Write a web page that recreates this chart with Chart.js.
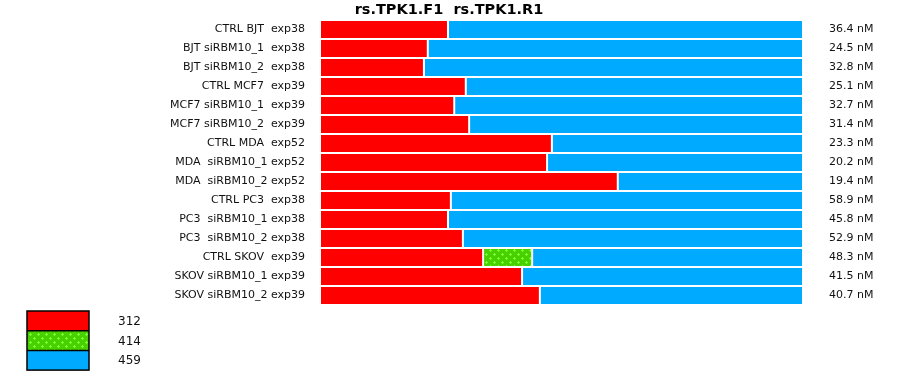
<!DOCTYPE html>
<html>
<head>
<meta charset="utf-8">
<script src="https://cdn.jsdelivr.net/npm/chart.js@4/dist/chart.umd.min.js"></script>
<style>
  html, body { margin: 0; padding: 0; background: #fff; }
  #wrap { width: 900px; height: 375px; position: relative; }
</style>
</head>
<body>
<div id="wrap"><canvas id="chart"></canvas></div>
<script>
const samples = [
  'CTRL BJT  exp38',
  'BJT siRBM10_1  exp38',
  'BJT siRBM10_2  exp38',
  'CTRL MCF7  exp39',
  'MCF7 siRBM10_1  exp39',
  'MCF7 siRBM10_2  exp39',
  'CTRL MDA  exp52',
  'MDA  siRBM10_1 exp52',
  'MDA  siRBM10_2 exp52',
  'CTRL PC3  exp38',
  'PC3  siRBM10_1 exp38',
  'PC3  siRBM10_2 exp38',
  'CTRL SKOV  exp39',
  'SKOV siRBM10_1 exp39',
  'SKOV siRBM10_2 exp39'
];

const concentrations = [
  '36.4 nM', '24.5 nM', '32.8 nM', '25.1 nM', '32.7 nM',
  '31.4 nM', '23.3 nM', '20.2 nM', '19.4 nM', '58.9 nM',
  '45.8 nM', '52.9 nM', '48.3 nM', '41.5 nM', '40.7 nM'
];

// fragment sizes (legend)
const fragments = ['312', '414', '459'];

// share of each fragment per sample, in %
const frag312 = [26.4, 22.2, 21.4, 30.1, 27.7, 30.8, 48.0, 47.0, 61.7, 27.0, 26.4, 29.5, 33.7, 41.8, 45.5];
const frag414 = [0, 0, 0, 0, 0, 0, 0, 0, 0, 0, 0, 0, 10.2, 0, 0];
const frag459 = [73.6, 77.8, 78.6, 69.9, 72.3, 69.2, 52.0, 53.0, 38.3, 73.0, 73.6, 70.5, 56.1, 58.2, 54.5];

const chartTitle = 'rs.TPK1.F1  rs.TPK1.R1';
const FONT = '"DejaVu Sans", Verdana, sans-serif';

// gruenes Muster mit hellen Kreuzen
function makeGreenPattern() {
  const c = document.createElement('canvas');
  c.width = 8; c.height = 8;
  const g = c.getContext('2d');
  g.fillStyle = '#48d000';
  g.fillRect(0, 0, 8, 8);
  g.fillStyle = '#77ff33';
  [[2, 2], [6, 6]].forEach(([x, y]) => {
    g.fillRect(x - 1, y, 3, 1);
    g.fillRect(x, y - 1, 1, 3);
  });
  return g.createPattern(c, 'repeat');
}

const canvas = document.getElementById('chart');
const greenFill = makeGreenPattern();
const RED = '#ff0000';
const BLUE = '#00aaff';

// Titel und Legende selbst zeichnen
const extras = {
  id: 'extras',
  afterDraw(chart) {
    const ctx = chart.ctx;
    ctx.save();
    ctx.fillStyle = '#000';
    ctx.font = 'bold 14.5px ' + FONT;
    ctx.textAlign = 'center';
    ctx.textBaseline = 'middle';
    ctx.fillText(chartTitle, chart.width / 2 - 1, 10);

    const x = 27, y0 = 311, w = 62, h = 19.7;
    chart.data.datasets.forEach((ds, i) => {
      const y = y0 + i * h;
      ctx.fillStyle = ds.backgroundColor;
      ctx.fillRect(x, y, w, h);
      ctx.fillStyle = '#111';
      ctx.font = '12px ' + FONT;
      ctx.textAlign = 'left';
      ctx.fillText(ds.label, 118, y + h / 2 + 1);
    });
    ctx.strokeStyle = '#000';
    ctx.lineWidth = 1.5;
    ctx.strokeRect(x, y0, w, h * 3);
    for (let i = 1; i < 3; i++) {
      ctx.beginPath();
      ctx.moveTo(x, y0 + i * h);
      ctx.lineTo(x + w, y0 + i * h);
      ctx.stroke();
    }
    ctx.restore();
  }
};

const common = {
  borderColor: '#ffffff',
  borderSkipped: false,
  barPercentage: 0.9,
  categoryPercentage: 1.0
};

// feste Achsenbreite, kein Zusatzabstand oben/unten
function fixWidth(w) {
  return function (scale) {
    scale.width = w;
    scale.paddingTop = 0;
    scale.paddingBottom = 0;
  };
}

new Chart(canvas, {
  type: 'bar',
  data: {
    labels: samples,
    datasets: [
      Object.assign({ label: fragments[0], data: frag312, backgroundColor: RED,
        borderWidth: { left: 0, right: 1, top: 0, bottom: 0 } }, common),
      Object.assign({ label: fragments[1], data: frag414, backgroundColor: greenFill,
        borderWidth: { left: 1, right: 1, top: 0, bottom: 0 } }, common),
      Object.assign({ label: fragments[2], data: frag459, backgroundColor: BLUE,
        borderWidth: { left: 1, right: 0, top: 0, bottom: 0 } }, common)
    ]
  },
  options: {
    indexAxis: 'y',
    responsive: true,
    maintainAspectRatio: false,
    animation: false,
    layout: { padding: { top: 20, left: 0, right: 0, bottom: 70 } },
    plugins: {
      legend: { display: false },
      tooltip: { enabled: false },
      title: { display: false }
    },
    scales: {
      x: {
        stacked: true,
        min: 0,
        max: 100,
        display: false
      },
      y: {
        stacked: true,
        grid: { display: false, drawTicks: false },
        border: { display: false },
        ticks: {
          color: '#111',
          padding: 16,
          font: { family: FONT, size: 11 }
        },
        afterFit: fixWidth(321)
      },
      y2: {
        type: 'category',
        position: 'right',
        labels: concentrations,
        offset: true,
        grid: { display: false, drawTicks: false },
        border: { display: false },
        ticks: {
          color: '#111',
          padding: 27,
          font: { family: FONT, size: 11 }
        },
        afterFit: fixWidth(98)
      }
    }
  },
  plugins: [extras]
});
</script>
</body>
</html>
